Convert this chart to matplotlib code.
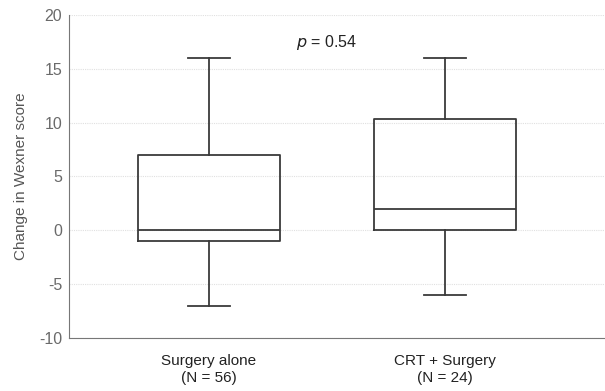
import matplotlib
matplotlib.use('Agg')
import matplotlib.pyplot as plt

# Dados
grupos = ['Surgery alone\n(N = 56)', 'CRT + Surgery\n(N = 24)']
q1 = [-1, 0]
mediana = [0, 2]
q3 = [7, 10.3]
whisk_low = [-7, -6]
whisk_high = [16, 16]
yticks = [-10, -5, 0, 5, 10, 15, 20]
p_texto = '$\\it{p}$ = 0.54'

plt.rcParams['font.family'] = ['Liberation Sans', 'DejaVu Sans']
plt.rcParams['axes.unicode_minus'] = False

stats = []
for i in range(len(grupos)):
    stats.append({
        'label': grupos[i],
        'q1': q1[i],
        'med': mediana[i],
        'q3': q3[i],
        'whislo': whisk_low[i],
        'whishi': whisk_high[i],
        'fliers': [],
    })

fig = plt.figure(figsize=(6.05, 3.91), dpi=100)
ax = fig.add_axes([0.114, 0.136, 0.886, 0.826])

cor_linha = '#3a3a3a'
ax.bxp(stats, positions=[1, 2], widths=0.6, showfliers=False,
       boxprops=dict(color=cor_linha, linewidth=1.3),
       medianprops=dict(color=cor_linha, linewidth=1.3),
       whiskerprops=dict(color=cor_linha, linewidth=1.3),
       capprops=dict(color=cor_linha, linewidth=1.3),
       capwidths=0.175)

ax.set_xlim(0.407, 2.678)
ax.set_ylim(-10, 20)
ax.set_yticks(yticks)
ax.yaxis.grid(True, linestyle=(0, (1, 1)), color='#e0e0e0', linewidth=0.8)
ax.set_axisbelow(True)

for s in ['top', 'right']:
    ax.spines[s].set_visible(False)
ax.spines['left'].set_color('#777777')
ax.spines['bottom'].set_color('#777777')
ax.tick_params(axis='both', length=0)
ax.tick_params(axis='y', labelsize=11.5, labelcolor='#6a6a6a', pad=5)
ax.tick_params(axis='x', labelsize=11, labelcolor='#222222', pad=12)

ax.set_ylabel('Change in Wexner score', fontsize=11, color='#555555', labelpad=8)
ax.text(1.5, 17.4, p_texto, ha='center', va='center', fontsize=11.5, color='#222222')

plt.savefig('out.png', dpi=100)
